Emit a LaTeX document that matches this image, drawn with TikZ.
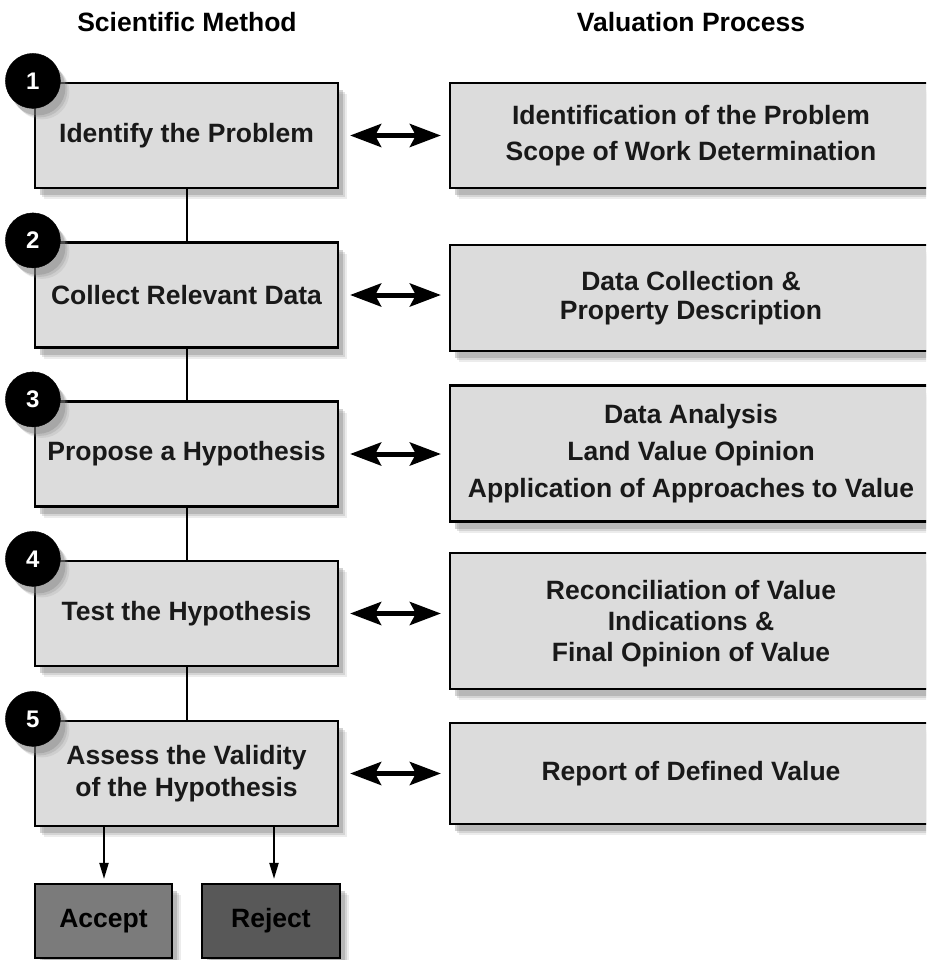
\documentclass[tikz,border=0pt]{standalone}
\usepackage{fontspec}
\setmainfont{Liberation Sans}
\usetikzlibrary{arrows.meta,shadows,calc}
\definecolor{boxgray}{HTML}{DCDCDC}
\definecolor{acceptgray}{HTML}{7B7B7B}
\definecolor{rejectgray}{HTML}{585858}
\begin{document}
\begin{tikzpicture}[x=1pt,y=-1pt,
  shadowed/.style={
    drop shadow={shadow xshift=9pt, shadow yshift=-11pt, opacity=0.15},
    drop shadow={shadow xshift=7pt, shadow yshift=-9pt, opacity=0.22},
    drop shadow={shadow xshift=5pt, shadow yshift=-7pt, opacity=0.35}},
  box/.style={draw=black, line width=2.2pt, fill=boxgray, shadowed, align=center, inner sep=0pt,
    font=\bfseries\fontsize{26.5}{31}\selectfont, text=black!90},
  lbox/.style={box, minimum width=303pt, minimum height=105pt},
  rbox/.style={box, minimum width=482pt},
  numc/.style={circle, fill=black, draw=black, minimum size=55pt, inner sep=0pt, text=white,
    font=\bfseries\fontsize{24}{24}\selectfont, shadowed},
  title/.style={font=\bfseries\fontsize{26.5}{30}\selectfont, inner sep=0pt},
  link/.style={line width=2pt},
  dblarrow/.style={line width=5pt, {Stealth[length=31pt,width=23pt,inset=6pt]}-{Stealth[length=31pt,width=23pt,inset=6pt]}},
  downarrow/.style={line width=2pt, -{Stealth[length=16pt,width=9pt,inset=0pt]}}
]
\useasboundingbox (0,0) rectangle (926,960);
\clip (0,0) rectangle (926,960);

\node[title] (t1) at (187,22) {Scientific Method};
\node[title] (t2) at (691,22) {Valuation Process};

% left boxes
\node[lbox] (L1) at (186.5,135.5) {Identify the Problem};
\node[lbox] (L2) at (186.5,295) {Collect Relevant Data};
\node[lbox] (L3) at (186.5,454) {Propose a Hypothesis};
\node[lbox] (L4) at (186.5,613.5) {Test the Hypothesis};
\node[lbox] (L5) at (186.5,773.5) {Assess the Validity\\[1pt] of the Hypothesis};

% right boxes
\node[rbox, minimum height=105pt] (R1) at (691,135.5) {Identification of the Problem\\[5pt] Scope of Work Determination};
\node[rbox, minimum height=106pt] (R2) at (691,298) {Data Collection \&\\[-2pt] Property Description};
\node[rbox, minimum height=136pt] (R3) at (691,453.5) {Data Analysis\\[6pt] Land Value Opinion\\[6pt] Application of Approaches to Value};
\node[rbox, minimum height=136pt, text depth=-4pt] (R4) at (691,621) {Reconciliation of Value\\ Indications \&\\ Final Opinion of Value};
\node[rbox, minimum height=101pt] (R5) at (691,773.5) {Report of Defined Value};

% accept / reject
\node[box, fill=acceptgray, minimum width=137pt, minimum height=74pt, text=black] (acc) at (103.5,921) {Accept};
\node[box, fill=rejectgray, minimum width=138pt, minimum height=74pt, text=black] (rej) at (271,921) {Reject};

% vertical links
\draw[link] (L1.south) -- (L2.north);
\draw[link] (L2.south) -- (L3.north);
\draw[link] (L3.south) -- (L4.north);
\draw[link] (L4.south) -- (L5.north);

% number circles
\node[numc] (n1) at ([xshift=-1pt,yshift=1pt]L1.north west) {1};
\node[numc] (n2) at ([xshift=-1pt,yshift=1pt]L2.north west) {2};
\node[numc] (n3) at ([xshift=-1pt,yshift=1pt]L3.north west) {3};
\node[numc] (n4) at ([xshift=-1pt,yshift=1pt]L4.north west) {4};
\node[numc] (n5) at ([xshift=-1pt,yshift=1pt]L5.north west) {5};

% double arrows
\foreach \i in {1,...,5}{
  \draw[dblarrow] ([xshift=11pt]L\i.east) -- ([xshift=-8pt]L\i.east -| R\i.west);
}

% accept / reject arrows
\draw[downarrow, shorten >=4pt] ([xshift=0.5pt]acc.north |- L5.south) -- ([xshift=0.5pt]acc.north);
\draw[downarrow, shorten >=4pt] ([xshift=3pt]rej.north |- L5.south) -- ([xshift=3pt]rej.north);
\end{tikzpicture}
\end{document}
